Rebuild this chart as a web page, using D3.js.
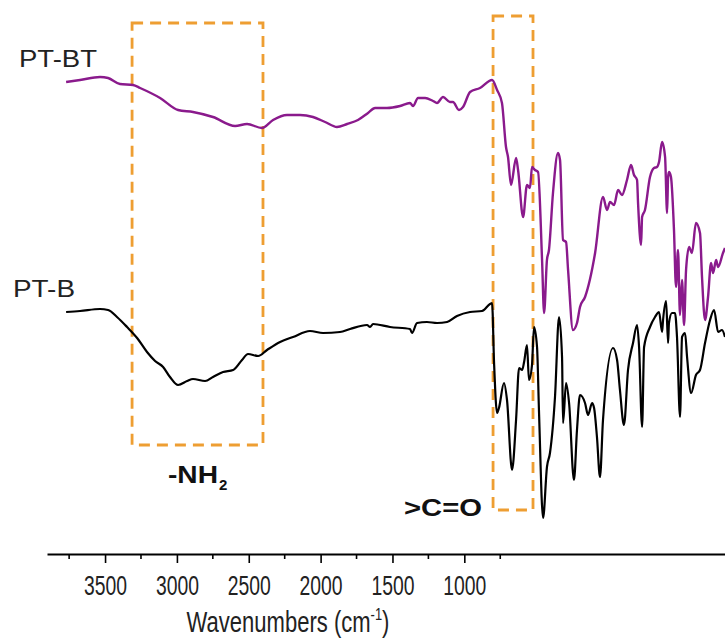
<!DOCTYPE html>
<html><head><meta charset="utf-8">
<script src="https://cdn.jsdelivr.net/npm/d3@7"></script>
<style>html,body{margin:0;padding:0;background:#fff;}svg{display:block;}</style>
</head><body>
<svg id="chart" width="725" height="643"></svg>
<script>
// ---- data (wavenumber cm^-1, transmittance a.u.) ----
const seriesNames = ["PT-BT", "PT-B"];
const ptbtWave = [3771,3674,3535,3479,3396,3305,3256,3117,2992,2888,2749,2595,2512,2408,2331,2234,2143,2053,1969,1886,1816,1740,1670,1621,1538,1447,1378,1357,1322,1273,1218,1190,1148,1100,1079,1037,1009,960,891,807,772,738,710,696,675,640,626,591,564,543,529,508,487,459,445,425,411,383,348,334,313,292,278,244,216,195,160,90,35,7,-14,-42,-70,-97,-132,-160,-181,-202,-209,-230,-237,-257,-292,-320,-341,-355,-376,-397,-411,-418,-424,-438,-459,-473,-487,-501,-515,-529,-543,-564,-584,-612,-640,-654,-675,-696,-717,-731,-752,-766,-800,-814];
const ptbtValue = [89.6,90.0,90.6,90.4,89.2,89.0,88.4,86.4,84.0,83.6,82.6,80.8,81.2,80.4,82.0,83.0,83.0,82.6,81.6,80.6,81.2,82.0,83.4,84.4,84.4,84.8,85.4,84.8,86.4,86.4,85.8,85.4,86.6,85.6,85.6,84.0,84.6,87.6,88.4,90.0,88.0,85.4,76.6,74.6,69.0,74.4,72.0,62.6,69.0,68.4,72.6,72.0,71.6,54.0,43.4,54.0,56.0,67.4,75.4,74.0,58.0,57.6,52.0,40.0,41.4,44.6,46.6,55.4,66.6,64.0,65.6,65.0,68.0,67.0,70.0,73.0,71.0,70.0,65.4,57.0,62.6,64.0,70.6,72.4,72.6,73.6,77.6,74.6,63.4,70.6,71.6,70.6,60.0,48.6,56.0,43.0,50.0,41.0,52.0,56.6,55.4,61.4,59.4,50.6,42.0,46.6,53.4,51.4,54.0,52.6,55.4,56.4];
const ptbWave = [3771,3674,3535,3479,3417,3347,3277,3208,3152,3096,3048,2992,2929,2888,2804,2749,2679,2609,2547,2505,2435,2373,2282,2192,2074,1983,1865,1795,1677,1656,1635,1517,1378,1364,1329,1260,1190,1120,1051,960,877,821,807,793,772,759,724,703,668,640,619,598,584,564,550,529,515,494,480,452,425,404,369,341,320,313,292,271,237,216,195,160,139,111,97,77,56,35,-35,-63,-83,-111,-139,-174,-202,-216,-237,-251,-292,-327,-355,-376,-383,-404,-418,-424,-445,-466,-480,-501,-515,-536,-550,-578,-612,-640,-675,-710,-738,-766,-793,-814];
const ptbValue = [43.6,43.8,44.2,44.0,42.6,40.6,38.4,35.6,33.8,32.6,30.6,29.0,29.8,30.2,29.8,30.6,31.6,32.0,34.0,35.2,34.8,36.0,37.6,38.6,39.8,39.4,39.6,40.2,41.0,40.6,41.2,40.6,40.2,39.4,41.4,41.6,41.4,41.6,42.8,43.6,43.8,45.2,45.4,33.4,23.4,24.4,29.4,26.0,12.0,22.0,32.4,32.0,33.6,37.0,30.0,33.0,40.6,36.6,23.4,2.4,12.6,15.4,26.6,42.6,34.6,21.4,29.4,25.4,10.0,20.0,27.0,25.4,23.0,25.4,24.4,18.6,10.6,22.0,36.4,34.0,28.0,21.0,32.0,37.4,41.0,36.6,20.6,36.6,40.6,42.6,43.6,39.6,42.0,45.8,37.4,41.4,43.4,43.4,38.6,22.6,38.6,39.4,34.6,27.4,31.0,32.0,37.4,42.0,44.0,39.6,40.0,38.6];
const majorTicks = [3500, 3000, 2500, 2000, 1500, 1000];
const minorTicks = [3750, 3250, 2750, 2250, 1750, 1250, 750];
// annotation boxes: [wave start, wave end, value top, value bottom]
const boxNH2 = [3312, 2401, 101.4, 17.0];
const boxCO = [800, 522, 102.8, 4.0];

// ---- layout ----
const svg = d3.select("#chart");
const x = d3.scaleLinear().domain([3904, -814]).range([47, 725]);
const y = d3.scaleLinear().domain([0, 100]).range([530, 30]);
const axisY = 554;

// boxes
const orange = "#EE9E32";
[boxNH2, boxCO].forEach(b => {
  svg.append("rect")
    .attr("x", x(b[0])).attr("y", y(b[2]))
    .attr("width", x(b[1]) - x(b[0])).attr("height", y(b[3]) - y(b[2]))
    .attr("fill", "none").attr("stroke", orange).attr("stroke-width", 2.8)
    .attr("stroke-dasharray", "11,7");
});

// lines
const line = d3.line().x(d => x(d[0])).y(d => y(d[1])).curve(d3.curveMonotoneX);
const ptbt = ptbtWave.map((w, i) => [w, ptbtValue[i]]);
const ptb = ptbWave.map((w, i) => [w, ptbValue[i]]);
svg.append("path").datum(ptbt).attr("d", line)
  .attr("fill", "none").attr("stroke", "#8a1a8c").attr("stroke-width", 2.4).attr("stroke-linejoin", "round");
svg.append("path").datum(ptb).attr("d", line)
  .attr("fill", "none").attr("stroke", "#000").attr("stroke-width", 2.2).attr("stroke-linejoin", "round");

// axis
const gx = svg.append("g").attr("transform", `translate(0,${axisY})`)
  .call(d3.axisBottom(x).tickValues(majorTicks).tickSize(9).tickSizeOuter(0).tickFormat(d3.format("d")));
gx.select(".domain").attr("stroke-width", 2.2);
gx.selectAll(".tick line").attr("stroke-width", 1.6);
gx.selectAll(".tick text")
  .attr("y", 41).attr("dy", 0)
  .attr("font-family", "'Liberation Sans', Arial, sans-serif").attr("font-size", 28)
  .attr("fill", "#222")
  .attr("textLength", 43).attr("lengthAdjust", "spacingAndGlyphs");
gx.selectAll(".minor").data(minorTicks).enter().append("line")
  .attr("class", "minor")
  .attr("x1", d => x(d)).attr("x2", d => x(d)).attr("y1", 0).attr("y2", 5)
  .attr("stroke", "#000").attr("stroke-width", 1.6);

// axis title
const tg = svg.append("g").attr("transform", "translate(288,632) scale(0.76,1)");
const tt = tg.append("text").attr("text-anchor", "middle")
  .attr("font-family", "'Liberation Sans', Arial, sans-serif").attr("font-size", 29).attr("fill", "#222");
tt.append("tspan").text("Wavenumbers (cm");
tt.append("tspan").attr("font-size", 17).attr("dy", -12).text("-1");
tt.append("tspan").attr("dy", 12).text(")");

// series labels
const ff = "'Liberation Sans', Arial, sans-serif";
svg.append("text").attr("x", 19).attr("y", 67).attr("font-family", ff).attr("font-size", 24)
  .attr("fill", "#222").attr("textLength", 78).attr("lengthAdjust", "spacingAndGlyphs").text(seriesNames[0]);
svg.append("text").attr("x", 13).attr("y", 297).attr("font-family", ff).attr("font-size", 24)
  .attr("fill", "#222").attr("textLength", 62).attr("lengthAdjust", "spacingAndGlyphs").text(seriesNames[1]);

// annotation labels
svg.append("text").attr("x", 168).attr("y", 483).attr("font-family", ff).attr("font-size", 23)
  .attr("font-weight", "bold").attr("fill", "#111").attr("textLength", 50).attr("lengthAdjust", "spacingAndGlyphs").text("-NH");
svg.append("text").attr("x", 219).attr("y", 490).attr("font-family", ff).attr("font-size", 15)
  .attr("font-weight", "bold").attr("fill", "#111").text("2");
svg.append("text").attr("x", 404).attr("y", 516).attr("font-family", ff).attr("font-size", 24)
  .attr("font-weight", "bold").attr("fill", "#111").attr("textLength", 78).attr("lengthAdjust", "spacingAndGlyphs").text(">C=O");
</script>
</body></html>
